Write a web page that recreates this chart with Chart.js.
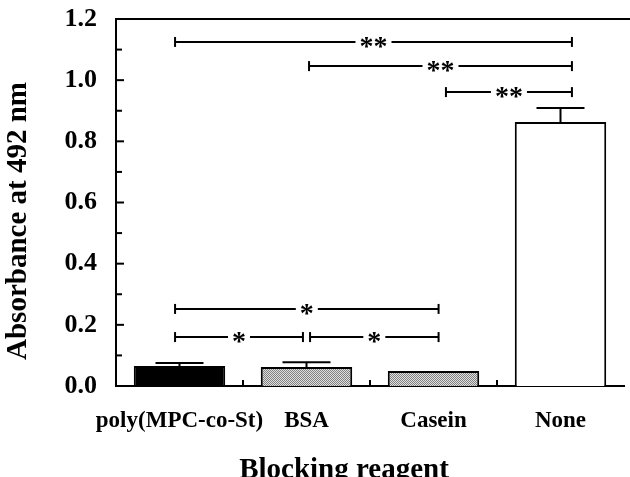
<!doctype html>
<html lang="en">
<head>
<meta charset="utf-8">
<title>Blocking reagent</title>
<style>
  html, body { margin: 0; padding: 0; background: #fff; }
  canvas { display: block; }
</style>
</head>
<body>
<canvas id="chart" width="630" height="477"></canvas>
<script src="https://cdn.jsdelivr.net/npm/chart.js"></script>
<script>
// data
const categories = ['poly(MPC-co-St)', 'BSA', 'Casein', 'None'];
const absorbance = [0.065, 0.062, 0.049, 0.863];
const errorUpper = [0.010, 0.016, 0, 0.046];
const yTickValues = [0.0, 0.2, 0.4, 0.6, 0.8, 1.0, 1.2];

// significance brackets (positions in category units)
const bracketFrom = [-0.035, 1.02, 2.098, -0.035, -0.035, 1.028];
const bracketTo = [3.09, 3.09, 3.09, 2.04, 0.972, 2.04];
const bracketLevel = [1.125, 1.046, 0.961, 0.252, 0.160, 0.160];
const bracketMark = ['**', '**', '**', '*', '*', '*'];

const xTitle = 'Blocking reagent';
const yTitle = 'Absorbance at 492 nm';

const serif = '"Liberation Serif", "Times New Roman", serif';

// stippled grey fill for BSA / Casein
function stipple() {
    const c = document.createElement('canvas');
    c.width = 2; c.height = 2;
    const g = c.getContext('2d');
    g.fillStyle = '#e0e0e0';
    g.fillRect(0, 0, 2, 2);
    g.fillStyle = '#808080';
    g.fillRect(0, 0, 1, 1);
    g.fillRect(1, 1, 1, 1);
    return g.createPattern(c, 'repeat');
}

function line(ctx, x1, y1, x2, y2) {
    ctx.beginPath();
    ctx.moveTo(x1, y1);
    ctx.lineTo(x2, y2);
    ctx.stroke();
}

const decor = {
    id: 'decor',
    afterDraw(chart) {
        const { ctx, chartArea: a, scales: { x, y } } = chart;
        ctx.save();
        ctx.strokeStyle = '#000';
        ctx.fillStyle = '#000';
        ctx.lineWidth = 2;

        // top frame line
        line(ctx, a.left - 1, a.top, chart.width, a.top);

        // inward ticks on the y axis, major and minor
        y.ticks.forEach((t, i) => {
            const py = y.getPixelForValue(t.value);
            if (t.value > 0 && t.value < 1.2) line(ctx, a.left, py, a.left + 8, py);
            if (i > 0) {
                const pm = y.getPixelForValue(t.value - 0.1);
                line(ctx, a.left, pm, a.left + 6, pm);
            }
        });

        // small ticks between categories
        for (let i = 0; i < categories.length - 1; i++) {
            const px = x.getPixelForValue(i + 0.5);
            line(ctx, px, a.bottom, px, a.bottom - 6);
        }

        // error bars (upper only)
        const meta = chart.getDatasetMeta(0);
        meta.data.forEach((bar, i) => {
            if (!errorUpper[i]) return;
            const top = y.getPixelForValue(absorbance[i] + errorUpper[i]);
            line(ctx, bar.x, bar.y, bar.x, top);
            line(ctx, bar.x - 24, top, bar.x + 24, top);
        });

        // significance brackets
        const starSize = 28;
        ctx.font = 'bold ' + starSize + 'px ' + serif;
        ctx.textAlign = 'center';
        ctx.textBaseline = 'alphabetic';
        bracketMark.forEach((mark, i) => {
            const x1 = x.getPixelForValue(bracketFrom[i]);
            const x2 = x.getPixelForValue(bracketTo[i]);
            const py = y.getPixelForValue(bracketLevel[i]);
            const mid = (x1 + x2) / 2;
            const half = ctx.measureText(mark).width / 2 + 4;
            line(ctx, x1, py, mid - half, py);
            line(ctx, mid + half, py, x2, py);
            line(ctx, x1, py - 5, x1, py + 5);
            line(ctx, x2, py - 5, x2, py + 5);
            ctx.fillText(mark, mid, py + starSize * 0.47);
        });

        // axis titles
        ctx.font = 'bold 29px ' + serif;
        ctx.textBaseline = 'middle';
        ctx.fillText(xTitle, 344, 471);
        ctx.translate(19, 221);
        ctx.rotate(-Math.PI / 2);
        ctx.fillText(yTitle, 0, 0);
        ctx.restore();
    }
};

const grey = stipple();

new Chart(document.getElementById('chart'), {
    type: 'bar',
    data: {
        labels: categories,
        datasets: [{
            data: absorbance,
            backgroundColor: ['#000', grey, grey, '#fff'],
            borderColor: '#000',
            borderWidth: 2,
            barPercentage: 0.72,
            categoryPercentage: 1
        }]
    },
    options: {
        responsive: false,
        animation: false,
        layout: { padding: { top: 19, right: 6, left: 0, bottom: 0 } },
        plugins: {
            legend: { display: false },
            tooltip: { enabled: false }
        },
        scales: {
            x: {
                grid: { display: false },
                border: { display: true, color: '#000', width: 2 },
                ticks: {
                    color: '#000',
                    font: { family: serif, size: 23, weight: 'bold' },
                    padding: 13,
                    maxRotation: 0,
                    autoSkip: false
                },
                afterFit: (s) => { s.height = 91; s.paddingLeft = 0; s.paddingRight = 0; }
            },
            y: {
                min: 0,
                max: 1.2,
                grid: { display: false },
                border: { display: true, color: '#000', width: 2 },
                afterBuildTicks: (s) => { s.ticks = yTickValues.map(v => ({ value: v })); },
                ticks: {
                    color: '#000',
                    font: { family: serif, size: 26, weight: 'bold' },
                    padding: 11,
                    callback: (v) => Number(v).toFixed(1)
                },
                afterFit: (s) => { s.width = 116; s.paddingTop = 0; s.paddingBottom = 0; }
            }
        }
    },
    plugins: [decor]
});
</script>
</body>
</html>
